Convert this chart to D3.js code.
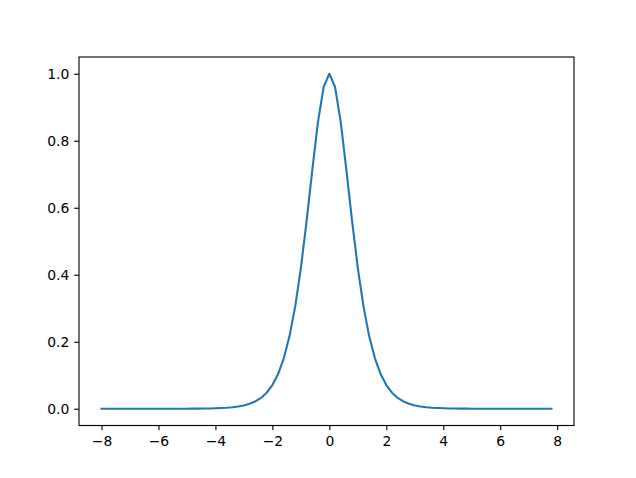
<!DOCTYPE html>
<html>
<head>
<meta charset="utf-8">
<script src="https://cdn.jsdelivr.net/npm/d3@7"></script>
<style>
html,body{margin:0;padding:0;background:#fff;}
svg{display:block;}
text{font-family:"DejaVu Sans",sans-serif;}
</style>
</head>
<body>
<svg id="chart" width="636" height="478"></svg>
<script>
// Data (x step 0.2 from -8 to 7.8)
const xValues = [-8.0,-7.8,-7.6,-7.4,-7.2,-7.0,-6.8,-6.6,-6.4,-6.2,-6.0,-5.8,-5.6,-5.4,-5.2,-5.0,-4.8,-4.6,-4.4,-4.2,-4.0,-3.8,-3.6,-3.4,-3.2,-3.0,-2.8,-2.6,-2.4,-2.2,-2.0,-1.8,-1.6,-1.4,-1.2,-1.0,-0.8,-0.6,-0.4,-0.2,0.0,0.2,0.4,0.6,0.8,1.0,1.2,1.4,1.6,1.8,2.0,2.2,2.4,2.6,2.8,3.0,3.2,3.4,3.6,3.8,4.0,4.2,4.4,4.6,4.8,5.0,5.2,5.4,5.6,5.8,6.0,6.2,6.4,6.6,6.8,7.0,7.2,7.4,7.6,7.8];
const yValues = [0.0000,0.0000,0.0000,0.0000,0.0000,0.0000,0.0000,0.0000,0.0000,0.0000,0.0000,0.0000,0.0001,0.0001,0.0001,0.0002,0.0003,0.0004,0.0006,0.0009,0.0013,0.0020,0.0030,0.0044,0.0066,0.0099,0.0147,0.0218,0.0324,0.0479,0.0707,0.1036,0.1505,0.2162,0.3050,0.4200,0.5591,0.7116,0.8556,0.9610,1.0000,0.9610,0.8556,0.7116,0.5591,0.4200,0.3050,0.2162,0.1505,0.1036,0.0707,0.0479,0.0324,0.0218,0.0147,0.0099,0.0066,0.0044,0.0030,0.0020,0.0013,0.0009,0.0006,0.0004,0.0003,0.0002,0.0001,0.0001,0.0001,0.0000,0.0000,0.0000,0.0000,0.0000,0.0000,0.0000,0.0000,0.0000,0.0000,0.0000];
const xTicks = [-8,-6,-4,-2,0,2,4,6,8];
const xTickLabels = ["\u22128","\u22126","\u22124","\u22122","0","2","4","6","8"];
const yTicks = [0.0,0.2,0.4,0.6,0.8,1.0];
const yTickLabels = ["0.0","0.2","0.4","0.6","0.8","1.0"];

(function(){
const mLeft = 79, mRight = 574, mTop = 57, mBottom = 425.5;

const xMin = d3.min(xValues), xMax = d3.max(xValues);
const xPad = (xMax - xMin)*0.05;
const yMin = d3.min(yValues), yMax = d3.max(yValues);
const yPad = (yMax - yMin)*0.05;

const x = d3.scaleLinear().domain([xMin - xPad, xMax + xPad]).range([mLeft, mRight]);
const y = d3.scaleLinear().domain([yMin - yPad, yMax + yPad]).range([mBottom, mTop]);

const svg = d3.select("#chart");
const pts = xValues.map((v,i)=>[v, yValues[i]]);

const line = d3.line().x(d=>x(d[0])).y(d=>y(d[1]));
svg.append("path")
  .datum(pts)
  .attr("d", line)
  .attr("fill","none")
  .attr("stroke","#1f77b4")
  .attr("stroke-width",2.08)
  .attr("stroke-linejoin","round")
  .attr("stroke-linecap","square");

const fontPx = 13.9;
const tickLen = 4.86;

const xAxis = d3.axisBottom(x).tickValues(xTicks)
  .tickFormat((d,i)=>xTickLabels[i]).tickSize(tickLen).tickPadding(4.86);
const gx = svg.append("g").attr("transform",`translate(0,${mBottom})`).call(xAxis);
const yAxis = d3.axisLeft(y).tickValues(yTicks)
  .tickFormat((d,i)=>yTickLabels[i]).tickSize(tickLen).tickPadding(4.86);
const gy = svg.append("g").attr("transform",`translate(${mLeft},0)`).call(yAxis);

[gx,gy].forEach(g=>{
  g.select(".domain").remove();
  g.selectAll(".tick line").attr("stroke","#000").attr("stroke-width",1.11);
  g.selectAll(".tick text").attr("fill","#000").style("font-size",fontPx+"px")
    .style("font-family","'DejaVu Sans',sans-serif");
});
gx.selectAll(".tick text").attr("dy","0.76em");

svg.append("rect")
  .attr("x",mLeft).attr("y",mTop)
  .attr("width",mRight-mLeft).attr("height",mBottom-mTop)
  .attr("fill","none").attr("stroke","#000").attr("stroke-width",1.11);
})();
</script>
</body>
</html>
